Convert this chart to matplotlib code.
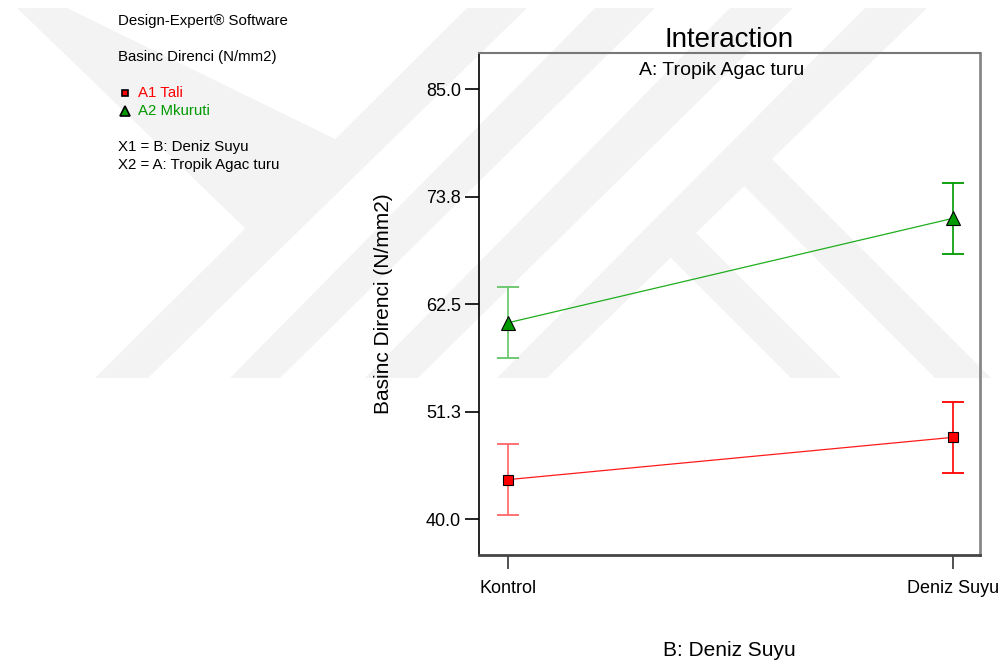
import numpy as np
import matplotlib
matplotlib.use("Agg")
import matplotlib.pyplot as plt
from matplotlib.patches import Polygon
from matplotlib.lines import Line2D

plt.rcParams['font.family'] = ['Liberation Sans', 'DejaVu Sans']

# factor levels and interaction means
levels = ['Kontrol', 'Deniz Suyu']
a1_tali = [44.14, 48.57]
a2_mkuruti = [60.56, 71.50]
lsd_half = [3.72, 3.72]

y_ticks = [40.0, 51.25, 62.5, 73.75, 85.0]
y_ticklabels = ['40.0', '51.3', '62.5', '73.8', '85.0']

W, H = 1003, 663
fig = plt.figure(figsize=(W / 100, H / 100), dpi=100)


def px(x, y):
    return (x / W, 1 - y / H)


# faint background emblem
emblem = [
    [(17, 8), (67, 8), (337, 140), (247, 230)],
    [(467, 8), (527, 8), (148, 378), (95, 378)],
    [(595, 8), (655, 8), (280, 378), (230, 378)],
    [(730, 8), (793, 8), (418, 378), (365, 378)],
    [(865, 8), (927, 8), (547, 378), (497, 378)],
    [(738, 180), (763, 150), (991, 378), (935, 378)],
    [(663, 250), (688, 225), (841, 378), (791, 378)],
]
for shape in emblem:
    fig.add_artist(Polygon([px(*p) for p in shape], closed=True,
                           facecolor='#f3f3f3', edgecolor='none',
                           transform=fig.transFigure, zorder=-1))

ax = fig.add_axes([479 / W, 1 - 555 / H, 501 / W, 502 / H])
ax.set_facecolor('none')

x = np.arange(len(levels))
series = [
    (a1_tali, 's', '#ff0000', '#ff6666', '#ff1a1a', 7.5),
    (a2_mkuruti, '^', '#009900', '#66c466', '#1fae1f', 9.5),
]
for vals, mk, fill, light, linec, ms in series:
    ax.plot(x, vals, color=linec, lw=0.9, zorder=3)
    for i in range(len(x)):
        bar_col = light if i == 0 else fill
        eb = ax.errorbar(x[i], vals[i], yerr=lsd_half[i], fmt='none',
                         ecolor=bar_col, elinewidth=1.2, capsize=8,
                         capthick=1.3, zorder=2)
        for cap in eb[1]:
            cap.set_color(light)
    ax.plot(x, vals, ls='none', marker=mk, ms=ms, mfc=fill, mec='black',
            mew=0.8, zorder=4)

ax.set_xlim(-0.065, 1.06)
ax.set_ylim(36.25, 88.8)

ax.set_yticks(y_ticks)
ax.set_yticklabels(y_ticklabels, fontsize=13)
ax.set_xticks(x)
ax.set_xticklabels(levels, fontsize=13)
ax.tick_params(axis='y', direction='out', length=10, width=1.2, pad=3)
ax.tick_params(axis='x', direction='out', length=10, width=1.2, pad=8,
               color='#333333')
for tl, c in zip(ax.yaxis.get_ticklines()[::2],
                 ['black', '#808080', 'black', '#808080', 'black']):
    tl.set_color(c)

ax.spines['left'].set_color('black')
ax.spines['left'].set_linewidth(1.2)
ax.spines['top'].set_color('#777777')
ax.spines['top'].set_linewidth(1.5)
ax.spines['right'].set_color('#888888')
ax.spines['right'].set_linewidth(2)
ax.spines['bottom'].set_color('#444444')
ax.spines['bottom'].set_linewidth(2)

ax.set_title('Interaction', fontsize=20, pad=4)
ax.text(0.485, 0.966, 'A: Tropik Agac turu', transform=ax.transAxes,
        ha='center', va='center', fontsize=14)
ax.set_ylabel('Basinc Direnci (N/mm2)', fontsize=15)
ax.yaxis.set_label_coords(-0.172, 0.5)
ax.set_xlabel('B: Deniz Suyu', fontsize=15)
ax.xaxis.set_label_coords(0.5, -0.172)

# side notes
notes = [
    ('Design-Expert® Software', 118, 21, 'black'),
    ('Basinc Direnci (N/mm2)', 118, 57, 'black'),
    ('A1 Tali', 138, 93, '#ff0000'),
    ('A2 Mkuruti', 138, 111, '#009900'),
    ('X1 = B: Deniz Suyu', 118, 147, 'black'),
    ('X2 = A: Tropik Agac turu', 118, 165, 'black'),
]
for txt, tx, ty, c in notes:
    fig.text(*px(tx, ty), txt, color=c, fontsize=10.8, ha='left', va='center')

for mk, fill, ms, ky in [('s', '#ff0000', 5, 93), ('^', '#009900', 6.5, 111)]:
    fx, fy = px(125, ky)
    fig.add_artist(Line2D([fx], [fy], transform=fig.transFigure, ls='none',
                          marker=mk, ms=ms, mfc=fill, mec='black', mew=1.2))

fig.savefig('out.png', dpi=100)
